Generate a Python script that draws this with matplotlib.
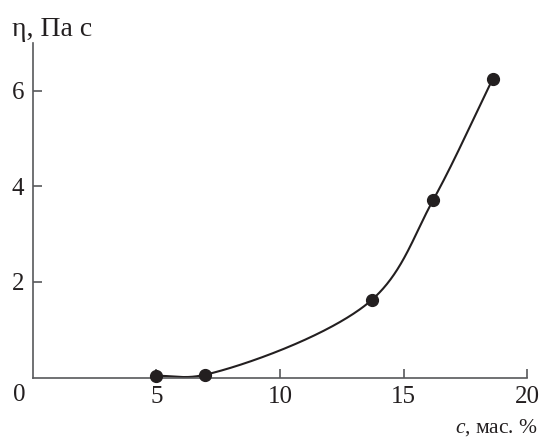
import matplotlib
matplotlib.use("Agg")
import matplotlib.pyplot as plt
import numpy as np

# data
conc = [5.0, 6.95, 13.7, 16.2, 18.6]        # c, мас. %
visc = [0.04, 0.06, 1.62, 3.72, 6.24]       # η, Па с
xticks = [5, 10, 15, 20]
yticks = [2, 4, 6]

plt.rcParams['font.family'] = ['Liberation Serif', 'DejaVu Serif']
plt.rcParams['mathtext.fontset'] = 'custom'
plt.rcParams['mathtext.rm'] = 'Liberation Serif'
plt.rcParams['mathtext.it'] = 'Liberation Serif:italic'

ink = '#231f20'
axcol = '#58595b'


def catmull_rom(x, y, sx, sy, alpha=0.5, num=120):
    # centripetal catmull-rom through the points, measured on the page
    P = np.column_stack([np.asarray(x, float) * sx, np.asarray(y, float) * sy])
    P = np.vstack([2 * P[0] - P[1], P, 2 * P[-1] - P[-2]])
    out = []
    for i in range(1, len(P) - 2):
        p0, p1, p2, p3 = P[i - 1], P[i], P[i + 1], P[i + 2]
        t0 = 0.0
        t1 = t0 + np.linalg.norm(p1 - p0) ** alpha
        t2 = t1 + np.linalg.norm(p2 - p1) ** alpha
        t3 = t2 + np.linalg.norm(p3 - p2) ** alpha
        t = np.linspace(t1, t2, num)[:, None]
        a1 = (t1 - t) / (t1 - t0) * p0 + (t - t0) / (t1 - t0) * p1
        a2 = (t2 - t) / (t2 - t1) * p1 + (t - t1) / (t2 - t1) * p2
        a3 = (t3 - t) / (t3 - t2) * p2 + (t - t2) / (t3 - t2) * p3
        b1 = (t2 - t) / (t2 - t0) * a1 + (t - t0) / (t2 - t0) * a2
        b2 = (t3 - t) / (t3 - t1) * a2 + (t - t1) / (t3 - t1) * a3
        c = (t2 - t) / (t2 - t1) * b1 + (t - t1) / (t2 - t1) * b2
        out.append(c)
    out = np.vstack(out)
    return out[:, 0] / sx, out[:, 1] / sy


fig = plt.figure(figsize=(5.42, 4.41), dpi=100)
ax = fig.add_axes([0.0603, 0.1435, 0.9126, 0.7597])

cx, cy = catmull_rom(conc, visc, 24.73, 47.83)
ax.plot(cx, cy, color=ink, lw=1.5, clip_on=False)
ax.plot(conc, visc, 'o', color=ink, ms=8.5, clip_on=False, zorder=3)

ax.set_xlim(0, 20)
ax.set_ylim(0, 7)
ax.set_xticks(xticks)
ax.set_yticks(yticks)
for s in ['top', 'right']:
    ax.spines[s].set_visible(False)
for s in ['left', 'bottom']:
    ax.spines[s].set_color(axcol)
    ax.spines[s].set_linewidth(1.2)
ax.tick_params(direction='in', length=6.5, width=1.2, color=axcol,
               labelsize=18, labelcolor=ink, pad=6)

fig.text(19 / 542, 1 - 395 / 441, '0', fontsize=18, color=ink,
         ha='center', va='center')
fig.text(12 / 542, 1 - 30 / 441, 'η, Па с', fontsize=20, color=ink,
         ha='left', va='center')
fig.text(538 / 542, 1 - 428 / 441, r'$c$, мас. $\mathit{\%}$', fontsize=15.5,
         color=ink, ha='right', va='center')

fig.savefig('out.png', dpi=100)
